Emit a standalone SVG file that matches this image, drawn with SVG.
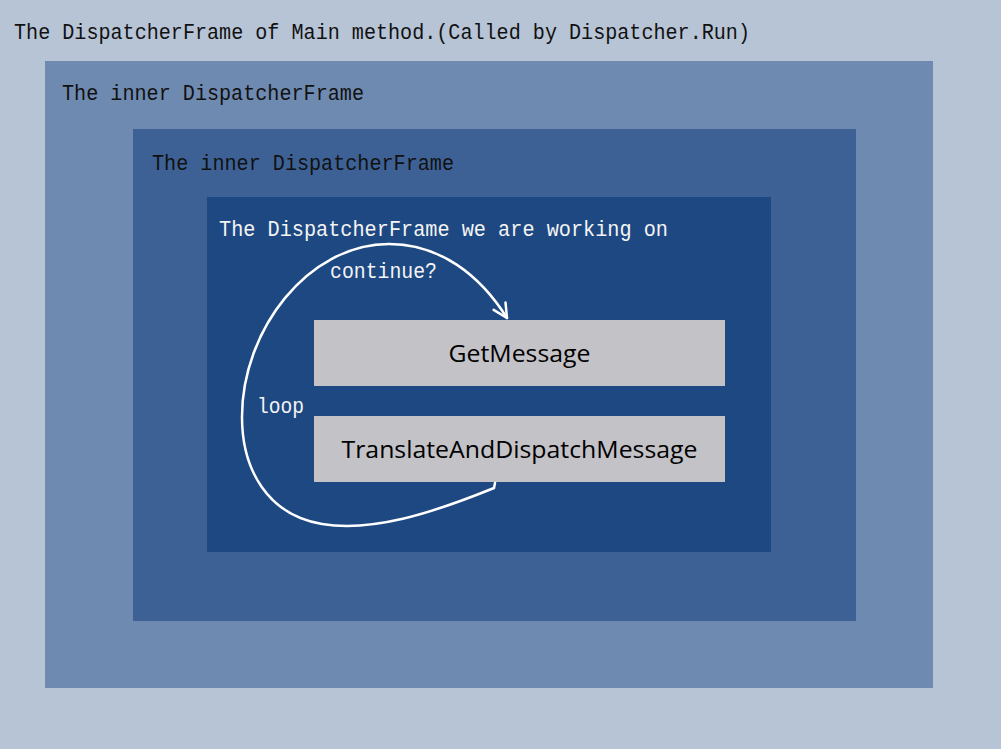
<svg xmlns="http://www.w3.org/2000/svg" width="1001" height="749" viewBox="0 0 1001 749">
<style>
.mono{font-family:"Liberation Mono","DejaVu Sans Mono",monospace;font-size:22px}
.dark{fill:#111}
.light{fill:#f4f4f4}
.node{fill:#c3c2c7}
.nt{font-family:"Open Sans","Noto Sans",sans-serif;font-size:23px;fill:#000;text-anchor:middle}
.conn{fill:none;stroke:#fff;stroke-width:2.5;stroke-linecap:round}
</style>
<defs>
<marker id="arr" viewBox="0 0 20 20" refX="18" refY="10" markerWidth="20" markerHeight="20" markerUnits="userSpaceOnUse" orient="auto">
<polyline points="4,3 18,10 4,17" fill="none" stroke="#fff" stroke-width="2.5" stroke-linecap="round" stroke-linejoin="round"/>
</marker>
</defs>
<g id="frame-main">
<rect x="0" y="0" width="1001" height="749" fill="#b7c4d6"/>
<text class="mono dark" x="14" y="39" textLength="736" lengthAdjust="spacingAndGlyphs">The DispatcherFrame of Main method.(Called by Dispatcher.Run)</text>
</g>
<g id="frame-inner1">
<rect x="45" y="61" width="888" height="627" fill="#6f8ab0"/>
<text class="mono dark" x="62" y="100" textLength="302" lengthAdjust="spacingAndGlyphs">The inner DispatcherFrame</text>
</g>
<g id="frame-inner2">
<rect x="133" y="129" width="723" height="492" fill="#3d6195"/>
<text class="mono dark" x="152" y="170" textLength="302" lengthAdjust="spacingAndGlyphs">The inner DispatcherFrame</text>
</g>
<g id="frame-current">
<rect x="207" y="197" width="564" height="355" fill="#1e4882"/>
<text class="mono light" x="219" y="236" textLength="449" lengthAdjust="spacingAndGlyphs">The DispatcherFrame we are working on</text>
</g>
<g id="node-getmessage">
<rect class="node" x="314" y="320" width="411" height="66"/>
<text class="nt" x="519.5" y="362" textLength="142" lengthAdjust="spacingAndGlyphs">GetMessage</text>
</g>
<g id="node-translate">
<rect class="node" x="314" y="416" width="411" height="66"/>
<text class="nt" x="519.5" y="458" textLength="356" lengthAdjust="spacingAndGlyphs">TranslateAndDispatchMessage</text>
</g>
<g id="connectors">
<path class="conn" marker-end="url(#arr)" d="M 495 483 L 494 488 C 430 514, 372 532, 322 524 C 268 515, 242 470, 242 417 C 242 330, 308 244, 389 244 C 440 244, 480 275, 507 318"/>
<text class="mono light" x="330" y="278" textLength="107" lengthAdjust="spacingAndGlyphs">continue?</text>
<text class="mono light" x="257" y="413" textLength="47" lengthAdjust="spacingAndGlyphs">loop</text>
</g>
</svg>
